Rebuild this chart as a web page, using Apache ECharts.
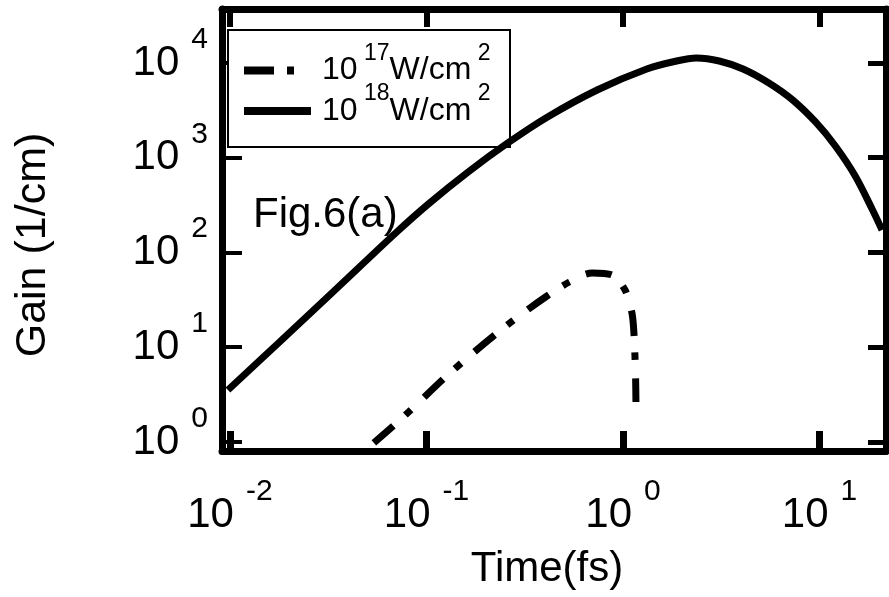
<!DOCTYPE html>
<html>
<head>
<meta charset="utf-8">
<script src="https://cdn.jsdelivr.net/npm/echarts@6/dist/echarts.min.js"></script>
<style>
  html, body { margin: 0; padding: 0; background: #fff; }
  #chart { width: 889px; height: 597px; }
</style>
</head>
<body>
<div id="chart"></div>
<script>
// Gain vs time on log-log axes for two pump intensities.

// 10^18 W/cm^2 (solid)
const timeHigh = [0.00977, 0.01788, 0.0347, 0.06972, 0.1023, 0.163, 0.2595, 0.4132, 0.7391, 1.322, 1.874, 2.364, 3.09, 4.084, 5.526, 7.305, 9.546, 12.04, 15.2, 18.52, 20.81];
const gainHigh = [3.54, 11.36, 41.2, 160.6, 325, 707, 1431, 2693, 5188, 8645, 10499, 11290, 10499, 8645, 6151, 4070, 2384, 1330, 642, 288, 173];

// 10^17 W/cm^2 (dash-dot)
const timeLow = [0.054, 0.0811, 0.1219, 0.1727, 0.2656, 0.4036, 0.5336, 0.697, 0.879, 1.024, 1.111, 1.137, 1.150, 1.160, 1.164];
const gainLow = [0.976, 2.07, 4.62, 8.70, 18.0, 33.9, 48.8, 60.8, 57.9, 40.2, 23.0, 14.1, 8.3, 4.51, 2.64];

const intensityExps = [17, 18];
const seriesNames = ['1e17', '1e18'];
const xTickExps = [-2, -1, 0, 1];
const yTickExps = [0, 1, 2, 3, 4];

const FONT = '"Liberation Sans", Arial, Helvetica, sans-serif';
const X_MIN = 0.00911, X_MAX = 21.8;
const Y_MIN = 0.803, Y_MAX = 37150;

function powerLabel(list) {
  return function (v) {
    const l = Math.log10(v);
    const e = Math.round(l);
    if (Math.abs(l - e) > 1e-6 || list.indexOf(e) < 0) return '';
    return '{b|10}{e|' + e + '}';
  };
}

// exponent is lifted with bottom padding, both tokens stay middle-aligned
const tickRich = {
  b: { fontFamily: FONT, fontSize: 42, lineHeight: 77, verticalAlign: 'middle', color: '#000' },
  e: { fontFamily: FONT, fontSize: 30, verticalAlign: 'middle', padding: [0, 0, 47, 12], color: '#000' }
};

const zip = (xs, ys) => xs.map((x, i) => [x, ys[i]]);

const chart = echarts.init(document.getElementById('chart'), null, { renderer: 'canvas' });

const frameLine = { show: true, onZero: false, lineStyle: { color: '#000', width: 7 } };

chart.setOption({
  animation: false,
  backgroundColor: '#fff',
  color: ['#000', '#000'],
  grid: { left: 222, top: 9, width: 669, height: 442, containLabel: false },
  xAxis: [
    {
      type: 'log', logBase: 10, min: X_MIN, max: X_MAX, position: 'bottom',
      axisLine: frameLine,
      axisTick: { show: true, inside: true, length: 20, lineStyle: { color: '#000', width: 7 } },
      minorTick: { show: false }, splitLine: { show: false },
      axisLabel: { formatter: powerLabel(xTickExps), rich: tickRich, margin: 26, showMinLabel: true, showMaxLabel: true }
    },
    {
      type: 'log', logBase: 10, min: X_MIN, max: X_MAX, position: 'top',
      axisLine: frameLine,
      axisTick: { show: true, inside: true, length: 18, lineStyle: { color: '#000', width: 6 } },
      minorTick: { show: false }, splitLine: { show: false },
      axisLabel: { show: false }
    }
  ],
  yAxis: [
    {
      type: 'log', logBase: 10, min: Y_MIN, max: Y_MAX, position: 'left',
      axisLine: frameLine,
      axisTick: { show: true, inside: true, length: 20, lineStyle: { color: '#000', width: 4 } },
      minorTick: { show: false }, splitLine: { show: false },
      axisLabel: { formatter: powerLabel(yTickExps), rich: tickRich, margin: 14 }
    },
    {
      type: 'log', logBase: 10, min: Y_MIN, max: Y_MAX, position: 'right',
      axisLine: frameLine,
      axisTick: { show: true, inside: true, length: 18, lineStyle: { color: '#000', width: 5 } },
      minorTick: { show: false }, splitLine: { show: false },
      axisLabel: { show: false }
    }
  ],
  legend: {
    orient: 'vertical', left: 240, top: 42, padding: 0, itemGap: -4,
    itemWidth: 67, itemHeight: 14, selectedMode: false, z: 5,
    data: [
      { name: seriesNames[0], lineStyle: { type: [30, 13, 7, 30] } },
      { name: seriesNames[1] }
    ],
    itemStyle: { opacity: 0, color: '#000', borderWidth: 0 },
    lineStyle: { width: 8, cap: 'butt', color: '#000' },
    formatter: function (name) {
      const e = intensityExps[seriesNames.indexOf(name)];
      return '{b|10}{s| ' + e + '}{b|W/cm}{s| 2}';
    },
    textStyle: {
      padding: [0, 0, 0, 6],
      rich: {
        b: { fontFamily: FONT, fontSize: 32, lineHeight: 57, verticalAlign: 'middle', color: '#000' },
        s: { fontFamily: FONT, fontSize: 23, verticalAlign: 'top', color: '#000' }
      }
    }
  },
  graphic: [
    {
      type: 'rect', z: 3,
      shape: { x: 228, y: 30, width: 282, height: 117 },
      style: { fill: '#fff', stroke: '#000', lineWidth: 2 }
    },
    {
      type: 'text', z: 3, x: 253, y: 215,
      style: { text: 'Fig.6(a)', fontFamily: FONT, fontSize: 42, fill: '#000', align: 'left', verticalAlign: 'middle', backgroundColor: '#fff', padding: [0, 7, 0, 0] }
    },
    {
      type: 'text', x: 33, y: 245, rotation: Math.PI / 2,
      style: { text: 'Gain (1/cm)', fontFamily: FONT, fontSize: 43, fill: '#000', align: 'center', verticalAlign: 'middle' }
    },
    {
      type: 'text', x: 547, y: 569,
      style: { text: 'Time(fs)', fontFamily: FONT, fontSize: 42, fill: '#000', align: 'center', verticalAlign: 'middle' }
    }
  ],
  series: [
    {
      name: seriesNames[0], type: 'line', xAxisIndex: 0, yAxisIndex: 0,
      data: zip(timeLow, gainLow), symbol: 'none', smooth: 0.3,
      itemStyle: { color: '#000' },
      lineStyle: { color: '#000', width: 7, type: [26, 16, 8, 18], cap: 'butt' }
    },
    {
      name: seriesNames[1], type: 'line', xAxisIndex: 0, yAxisIndex: 0,
      data: zip(timeHigh, gainHigh), symbol: 'none', smooth: 0.3,
      itemStyle: { color: '#000' },
      lineStyle: { color: '#000', width: 7, type: 'solid' }
    }
  ]
});
</script>
</body>
</html>
